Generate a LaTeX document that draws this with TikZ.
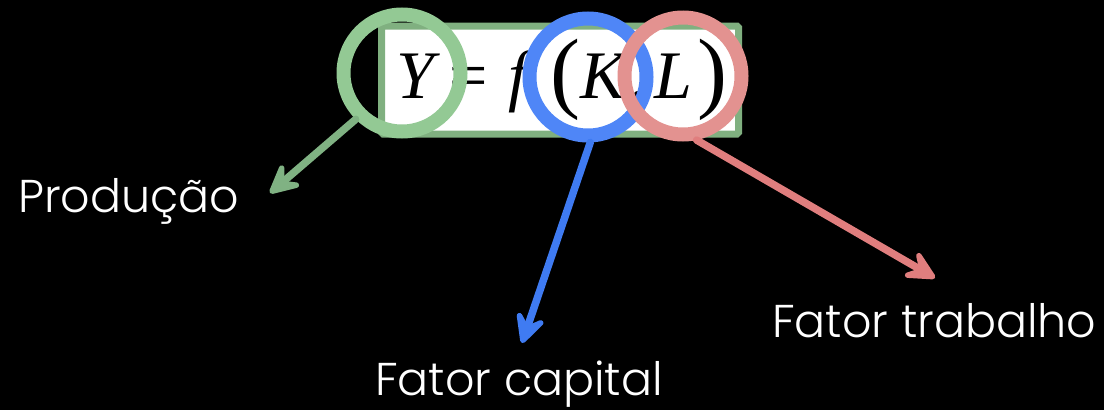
\documentclass[tikz,border=0pt]{standalone}
\usepackage{fontspec}
\setmainfont{Poppins}[UprightFont=* Light]
\newfontfamily\eqfont{Liberation Serif}
\usetikzlibrary{arrows.meta}
\definecolor{gring}{HTML}{93C994}
\definecolor{gbox}{HTML}{80B080}
\definecolor{garrow}{HTML}{80B283}
\definecolor{bring}{HTML}{4F86F7}
\definecolor{barrow}{HTML}{3F7BF2}
\definecolor{rring}{HTML}{E39290}
\definecolor{rarrow}{HTML}{E07E7E}
\begin{document}
\begin{tikzpicture}[x=1pt,y=-1pt,
  ring/.style={circle,minimum size=117pt,inner sep=0pt,line width=14pt},
  pointer/.style={line width=7.5pt,line cap=round,-{Stealth[length=40pt 0,width=40pt 0,inset=18pt 0,round]}},
  lbl/.style={anchor=base west,inner sep=0pt,text=white,font=\fontsize{46}{50}\selectfont},
  eq/.style={anchor=base west,inner sep=0pt,text=black,font=\eqfont\fontsize{68}{70}\selectfont},
  par/.style={anchor=base west,inner sep=0pt,text=black,font=\eqfont\fontsize{90}{92}\selectfont}]
\fill[black] (0,0) rectangle (1104,410);
\useasboundingbox (0,0) rectangle (1104,410);
% box
\node[draw=gbox,fill=white,line width=7pt,rounded corners=1.5pt,minimum width=357pt,minimum height=108pt,inner sep=0pt] (box) at (560,80) {};
% equation
\node[eq] (y) at (396,98) {\itshape Y};
\node[eq] (eqs) at (449,98) {=};
\node[eq] (f) at (508,98) {\itshape f};
\node[par] (lp) at (550,101) {(};
\node[eq] (k) at (580,98) {\itshape K};
\node[eq] (cm) at (630,98) {,};
\node[eq] (l) at (654,98) {\itshape L};
\node[par] (rp) at (697,101) {)};
% rings
\node[ring,draw=gring] (cg) at (402,73) {};
\node[ring,draw=bring] (cb) at (588,77) {};
\node[ring,draw=rring] (cr) at (683,76) {};
% labels
\node[lbl] (prod) at (18,212) {Produção};
\node[lbl] (cap) at (375,395) {Fator capital};
\node[lbl] (trab) at (772,337) {Fator trabalho};
\coordinate (tg) at (270,193);
\coordinate (tb) at (522,343);
\coordinate (tr) at (935,278);
\draw[pointer,garrow] (cg.225) -- (tg);
\draw[pointer,barrow] (cb.272) -- (tb);
\draw[pointer,rarrow] (cr.282) -- (tr);
\end{tikzpicture}
\end{document}
